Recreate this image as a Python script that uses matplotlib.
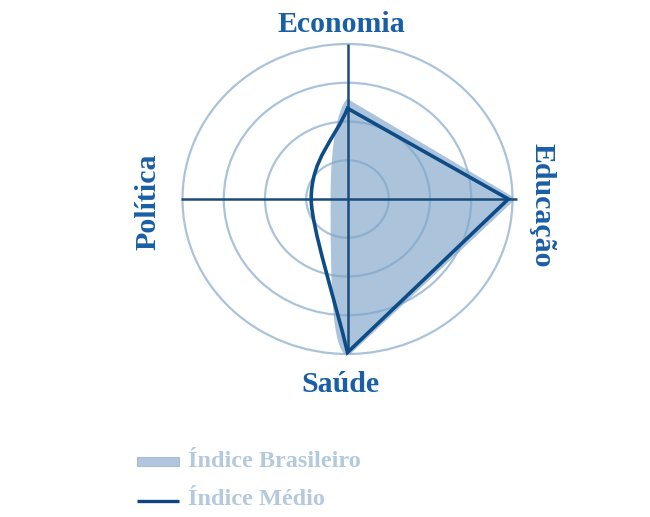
import numpy as np
import matplotlib
matplotlib.use('Agg')
import matplotlib.pyplot as plt
from matplotlib.path import Path
from matplotlib.patches import PathPatch, Circle, Rectangle
from matplotlib.lines import Line2D

# ---- data ----
categories = ['Economia', 'Educação', 'Saúde', 'Política']
angles_deg = [90, 0, 270, 180]
indice_brasileiro = [0.63, 1.0, 1.0, 0.09]
indice_medio = [0.585, 0.975, 0.99, 0.22]
grid_levels = [0.25, 0.5, 0.75, 1.0]
legend_labels = ['Índice Brasileiro', 'Índice Médio']

plt.rcParams['font.family'] = ['Liberation Serif', 'DejaVu Serif']

W, H = 650, 517
fig = plt.figure(figsize=(W / 100, H / 100), dpi=100)
cx, cy, rx, ry = 347.5, 199.0, 165.0, 155.0
ax = fig.add_axes([(cx - rx) / W, (H - cy - ry) / H, 2 * rx / W, 2 * ry / H])
ax.set_xlim(-1, 1)
ax.set_ylim(-1, 1)
ax.axis('off')


def shape_path(values, upper, lower):
    """Straight edges on the right, smooth curve through the left vertex.
    upper/lower = (kp, aq, cq): curve shape parameters (style only)."""
    th = np.deg2rad(angles_deg)
    v = np.asarray(values, dtype=float)
    pts = np.column_stack([v * np.cos(th), v * np.sin(th)])
    E, D, S, P = pts
    kpu, aqu, cqu = upper
    kpl, aql, cql = lower
    verts = [E, D, S,
             (P[0] * aql, S[1] * cql), (P[0], S[1] * kpl), P,
             (P[0], E[1] * kpu), (P[0] * aqu, E[1] * cqu), E,
             E]
    codes = [Path.MOVETO, Path.LINETO, Path.LINETO,
             Path.CURVE4, Path.CURVE4, Path.CURVE4,
             Path.CURVE4, Path.CURVE4, Path.CURVE4,
             Path.CLOSEPOLY]
    return Path(verts, codes)


fill_color = '#abc4db'
line_color = '#0e4c87'

# filled series (soft edge)
ax.add_patch(PathPatch(shape_path(indice_brasileiro, (0.6, 0.5, 0.89), (0.65, 0.84, 0.94)),
                       facecolor=fill_color, edgecolor=fill_color, lw=3,
                       zorder=1))

# grid circles
for r in grid_levels:
    ax.add_patch(Circle((0, 0), r, fill=False, edgecolor='#7fa3c6',
                        lw=1.6, alpha=0.65, zorder=2, clip_on=False))

# axis lines
ax.plot([-1.01, 1.03], [0, 0], color='#1a4c7a', lw=1.8, zorder=3,
        solid_capstyle='butt', clip_on=False)
ax.plot([0, 0], [-0.99, 1.0], color='#1a4c7a', lw=1.8, zorder=3,
        solid_capstyle='butt', clip_on=False)

# line series
ax.add_patch(PathPatch(shape_path(indice_medio, (0.45, 1 / 3, 2 / 3), (0.18, 1 / 3, 2 / 3)),
                       facecolor='none', edgecolor=line_color, lw=2.6,
                       joinstyle='miter', zorder=4, clip_on=False))

# category labels
lab_color = '#1a5ea6'
fs = 21.5
ax.text(-0.036, 1.077, categories[0], ha='center', va='baseline',
        fontsize=fs, fontweight='bold', color=lab_color, clip_on=False)
ax.text(1.18, -0.04, categories[1], ha='center', va='center', rotation=-90,
        fontsize=fs, fontweight='bold', color=lab_color, clip_on=False)
ax.text(-0.04, -1.245, categories[2], ha='center', va='baseline',
        fontsize=fs, fontweight='bold', color=lab_color, clip_on=False)
ax.text(-1.21, -0.02, categories[3], ha='center', va='center', rotation=90,
        fontsize=fs, fontweight='bold', color=lab_color, clip_on=False)

# legend (manual)
leg_text = '#b5c9dd'
ax.add_patch(Rectangle((-1.276, -1.723), 0.255, 0.058, facecolor='#b0c6dc',
                       edgecolor='#a6bfd7', lw=0.8, clip_on=False))
ax.text(-0.967, -1.729, legend_labels[0], ha='left', va='baseline',
        fontsize=17.5, fontweight='bold', color=leg_text, clip_on=False)
ax.add_line(Line2D([-1.276, -1.021], [-1.948, -1.948], color='#0d4580',
                   lw=2.4, solid_capstyle='butt', clip_on=False))
ax.text(-0.967, -1.974, legend_labels[1], ha='left', va='baseline',
        fontsize=17.5, fontweight='bold', color=leg_text, clip_on=False)

fig.savefig('out.png', dpi=100)
